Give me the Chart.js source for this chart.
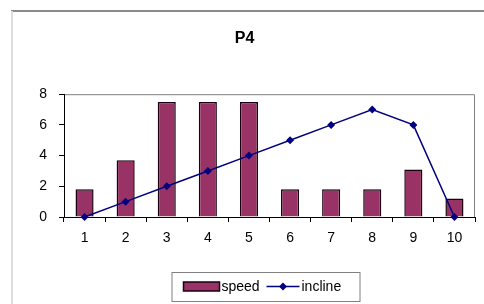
<!DOCTYPE html>
<html>
<head>
<meta charset="utf-8">
<script src="https://cdn.jsdelivr.net/npm/chart.js@4.4.1/dist/chart.umd.min.js"></script>
<style>
  html, body { margin: 0; padding: 0; background: #fff; }
  #wrap { width: 484px; height: 304px; position: relative; }
</style>
</head>
<body>
<div id="wrap"><canvas id="chart" width="484" height="304"></canvas></div>
<script>
// Values
const categories = ["1", "2", "3", "4", "5", "6", "7", "8", "9", "10"];
const speed = [1.8, 3.7, 7.5, 7.5, 7.5, 1.8, 1.8, 1.8, 3.1, 1.2];
const incline = [0, 1, 2, 3, 4, 5, 6, 7, 6, 0];
const yTicks = [0, 2, 4, 6, 8];

const barColor = "#993366";
const lineColor = "#000080";

// frame around the chart and grey border of the plot area
const framePlugin = {
    id: "frame",
    beforeDraw(chart) {
        const ctx = chart.ctx;
        ctx.save();
        ctx.strokeStyle = "#8a8a8a";
        ctx.lineWidth = 2;
        ctx.beginPath();
        ctx.moveTo(11, 11);
        ctx.lineTo(chart.width, 11);
        ctx.stroke();
        ctx.strokeStyle = "#dddddd";
        ctx.lineWidth = 2;
        ctx.beginPath();
        ctx.moveTo(12, 11);
        ctx.lineTo(12, chart.height);
        ctx.stroke();
        const a = chart.chartArea;
        ctx.strokeStyle = "#808080";
        ctx.lineWidth = 1;
        ctx.beginPath();
        ctx.moveTo(a.left, a.top + 0.5);
        ctx.lineTo(a.right - 0.5, a.top + 0.5);
        ctx.lineTo(a.right - 0.5, a.bottom);
        ctx.stroke();
        ctx.restore();
    }
};

// legend drawn in a box under the x axis
const legendBoxPlugin = {
    id: "legendBox",
    afterDraw(chart) {
        const ctx = chart.ctx;
        const a = chart.chartArea;
        const cx = (a.left + a.right) / 2 - 4;
        const boxW = 188, boxH = 29;
        const left = cx - boxW / 2;
        const top = 272;
        const mid = top + boxH / 2;
        ctx.save();
        ctx.strokeStyle = "#808080";
        ctx.lineWidth = 1;
        ctx.strokeRect(left + 0.5, top + 0.5, boxW, boxH);

        ctx.font = "14px 'Liberation Sans', Arial, sans-serif";
        ctx.textBaseline = "middle";
        ctx.fillStyle = "#000";

        // speed swatch
        let x = left + 12;
        ctx.fillStyle = barColor;
        ctx.fillRect(x, mid - 4.5, 36, 9);
        ctx.strokeStyle = "#1a0010";
        ctx.lineWidth = 1.5;
        ctx.strokeRect(x, mid - 4.5, 36, 9);
        ctx.fillStyle = "#000";
        ctx.fillText(chart.data.datasets[1].label, x + 38, mid + 1);

        // incline swatch
        x = left + 95;
        ctx.strokeStyle = lineColor;
        ctx.lineWidth = 1.5;
        ctx.beginPath();
        ctx.moveTo(x, mid);
        ctx.lineTo(x + 33, mid);
        ctx.stroke();
        ctx.fillStyle = lineColor;
        ctx.beginPath();
        ctx.moveTo(x + 16.5, mid - 4);
        ctx.lineTo(x + 20.5, mid);
        ctx.lineTo(x + 16.5, mid + 4);
        ctx.lineTo(x + 12.5, mid);
        ctx.closePath();
        ctx.fill();
        ctx.fillStyle = "#000";
        ctx.fillText(chart.data.datasets[0].label, x + 35, mid + 1);
        ctx.restore();
    }
};

const tickFont = { family: "'Liberation Sans', Arial, sans-serif", size: 14 };

new Chart(document.getElementById("chart"), {
    data: {
        labels: categories,
        datasets: [
            {
                type: "line",
                label: "incline",
                data: incline,
                borderColor: lineColor,
                backgroundColor: lineColor,
                borderWidth: 1.5,
                pointStyle: "rectRot",
                pointRadius: 4,
                pointBorderWidth: 0,
                tension: 0,
                clip: false,
                order: 0
            },
            {
                type: "bar",
                label: "speed",
                data: speed,
                backgroundColor: barColor,
                borderColor: "#1a0010",
                borderWidth: 1.5,
                barPercentage: 0.44,
                categoryPercentage: 1,
                order: 1
            }
        ]
    },
    options: {
        responsive: false,
        animation: false,
        layout: { padding: { left: 14, right: 9, top: 20, bottom: 57 } },
        plugins: {
            legend: { display: false },
            tooltip: { enabled: false },
            title: {
                display: true,
                text: "P4",
                color: "#000",
                font: { family: "'Liberation Sans', Arial, sans-serif", size: 16, weight: "bold" },
                padding: { top: 9, bottom: 46 }
            }
        },
        scales: {
            x: {
                offset: true,
                grid: { offset: true, drawOnChartArea: false, drawTicks: true, tickLength: 5, color: "#000" },
                border: { color: "#000" },
                ticks: { color: "#000", font: tickFont, padding: 8 },
                afterFit(scale) { scale.height = 30; }
            },
            y: {
                min: 0,
                max: 8,
                afterBuildTicks(scale) { scale.ticks = yTicks.map(v => ({ value: v })); },
                grid: { drawOnChartArea: false, drawTicks: true, tickLength: 5, color: "#000" },
                border: { color: "#000" },
                ticks: { color: "#000", font: tickFont, padding: 12 },
                afterFit(scale) { scale.width = 50; }
            }
        }
    },
    plugins: [framePlugin, legendBoxPlugin]
});
</script>
</body>
</html>
